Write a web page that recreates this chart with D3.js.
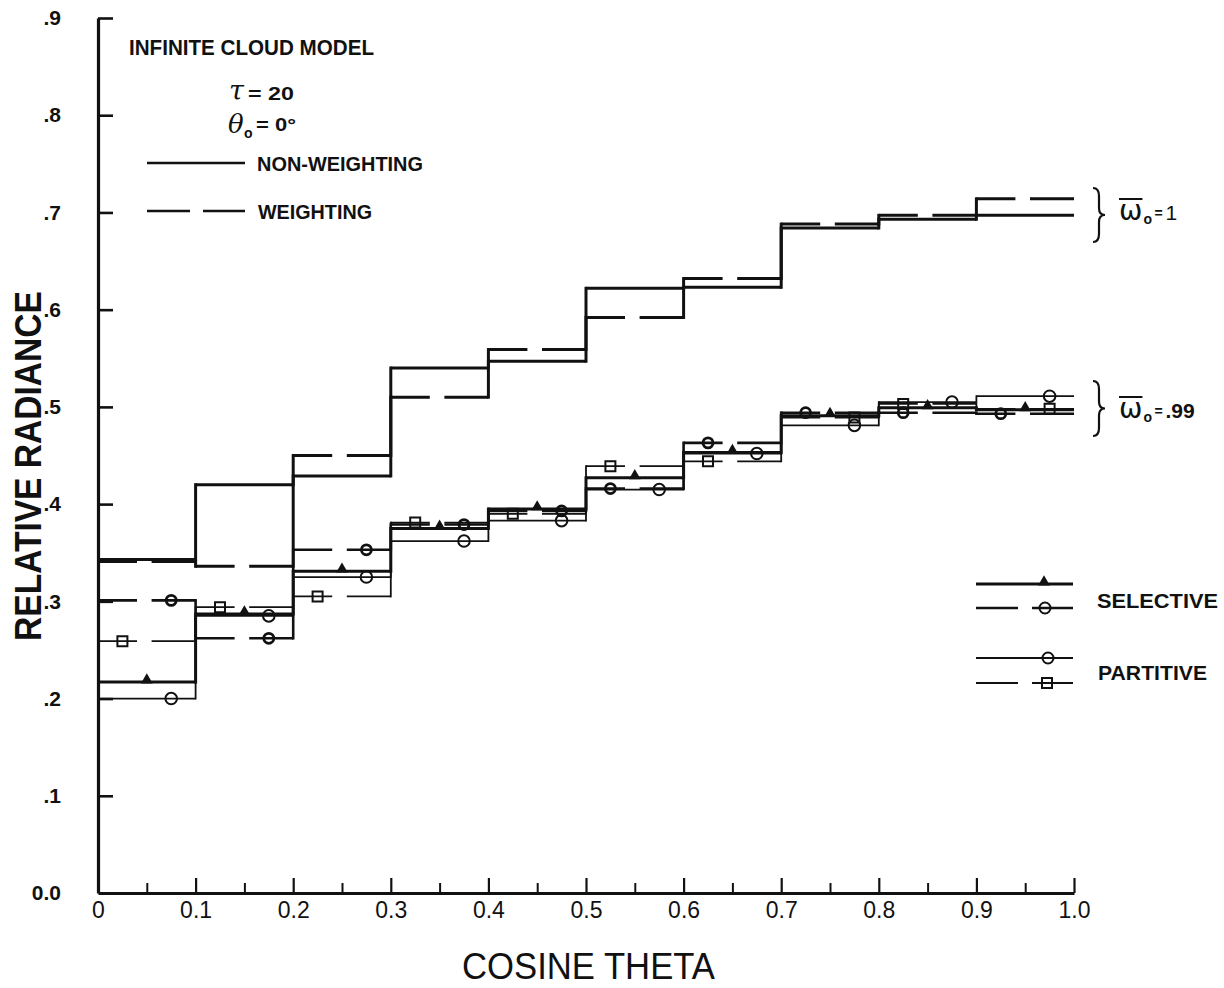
<!DOCTYPE html>
<html>
<head>
<meta charset="utf-8">
<script src="https://cdn.jsdelivr.net/npm/d3@7"></script>
<style>
  html, body { margin: 0; padding: 0; background: #fff; }
  svg { display: block; }
</style>
</head>
<body>
<svg id="chart" width="1224" height="988"></svg>
<script>
// ---- bins of cosine theta ----
const binEdges = [0, 0.1, 0.2, 0.3, 0.4, 0.5, 0.6, 0.7, 0.8, 0.9, 1.0];
const xMajorTicks = [0, 0.1, 0.2, 0.3, 0.4, 0.5, 0.6, 0.7, 0.8, 0.9, 1.0];
const xMajorLabels = ["0", "0.1", "0.2", "0.3", "0.4", "0.5", "0.6", "0.7", "0.8", "0.9", "1.0"];
const xMinorTicks = [0.05, 0.15, 0.25, 0.35, 0.45, 0.55, 0.65, 0.75, 0.85, 0.95];
const yTicks = [0, 0.1, 0.2, 0.3, 0.4, 0.5, 0.6, 0.7, 0.8, 0.9];
const yTickLabels = ["0.0", ".1", ".2", ".3", ".4", ".5", ".6", ".7", ".8", ".9"];

// ---- single scattering albedo = 1 ----
const nonWeighting = [0.343, 0.420, 0.429, 0.540, 0.547, 0.622, 0.623, 0.684, 0.693, 0.697];
const weighting    = [0.341, 0.336, 0.450, 0.510, 0.559, 0.592, 0.632, 0.688, 0.697, 0.714];

// ---- single scattering albedo = .99 ----
// selective, non-weighting (filled triangles)
const selectiveSolid      = [0.217, 0.287, 0.331, 0.375, 0.395, 0.427, 0.453, 0.491, 0.499, 0.497];
const selectiveSolidMarkX = [0.05, 0.15, 0.25, 0.35, 0.45, 0.55, 0.65, 0.75, 0.85, 0.95];
// selective, weighting (circles)
const selectiveDashed      = [0.301, 0.262, 0.353, 0.379, 0.393, 0.416, 0.463, 0.494, 0.494, 0.493];
const selectiveDashedMarkX = [0.075, 0.175, 0.275, 0.375, 0.475, 0.525, 0.625, 0.725, 0.825, 0.925];
// partitive, non-weighting (circles)
const partitiveSolid      = [0.200, 0.285, 0.325, 0.362, 0.383, 0.415, 0.452, 0.481, 0.505, 0.511];
const partitiveSolidMarkX = [0.075, 0.175, 0.275, 0.375, 0.475, 0.575, 0.675, 0.775, 0.875, 0.975];
// partitive, weighting (squares)
const partitiveDashed      = [0.259, 0.294, 0.305, 0.381, 0.390, 0.439, 0.444, 0.489, 0.503, 0.498];
const partitiveDashedMarkX = [0.025, 0.125, 0.225, 0.325, 0.425, 0.525, 0.625, 0.775, 0.825, 0.975];

// ---------------------------------------------------------------
const ink = "#111";
const letterFont = "'Liberation Sans Narrow', 'Arial Narrow', 'Liberation Sans', Arial, sans-serif";
const svg = d3.select("#chart");
svg.append("rect").attr("width", 1224).attr("height", 988).attr("fill", "#fff");

const x = d3.scaleLinear().domain([0, 1]).range([98, 1074]);
const y = d3.scaleLinear().domain([0, 0.9]).range([893, 18]);

const binW = x(0.1) - x(0);
const dashPattern = [binW * 0.40, binW * 0.15, binW * 0.45, 0].map(d => d.toFixed(1)).join(" ");

// ---- axes ----
const yAxis = d3.axisLeft(y)
  .tickValues(yTicks)
  .tickFormat((d, i) => yTickLabels[i])
  .tickSizeInner(-15)
  .tickSizeOuter(0)
  .tickPadding(37);
const gy = svg.append("g").attr("transform", `translate(${x(0)},0)`).call(yAxis);
gy.select(".domain").attr("stroke", ink).attr("stroke-width", 3.2);
gy.selectAll(".tick line").attr("stroke", ink).attr("stroke-width", 2.6)
  .filter(d => d === 0).remove();
gy.selectAll(".tick text")
  .attr("fill", ink)
  .attr("font-family", letterFont)
  .attr("font-weight", "bold")
  .attr("font-size", 21);

const xAxis = d3.axisBottom(x)
  .tickValues(xMajorTicks)
  .tickFormat((d, i) => xMajorLabels[i])
  .tickSizeInner(-15)
  .tickSizeOuter(0)
  .tickPadding(9);
const gx = svg.append("g").attr("transform", `translate(0,${y(0)})`).call(xAxis);
gx.select(".domain").attr("stroke", ink).attr("stroke-width", 3.2);
gx.selectAll(".tick line").attr("stroke", ink).attr("stroke-width", 2.2)
  .filter(d => d === 0).remove();
gx.selectAll(".tick text")
  .attr("fill", ink)
  .attr("font-family", letterFont)
  .attr("font-size", 23);

const xMinor = d3.axisBottom(x).tickValues(xMinorTicks).tickFormat("")
  .tickSizeInner(-10).tickSizeOuter(0);
const gxm = svg.append("g").attr("transform", `translate(0,${y(0)})`).call(xMinor);
gxm.select(".domain").remove();
gxm.selectAll(".tick line").attr("stroke", ink).attr("stroke-width", 2);

// ---- step series ----
function drawSteps(values, st) {
  const g = svg.append("g").attr("class", "series");
  const segs = values.map((v, i) => ({ a: binEdges[i], b: binEdges[i + 1], v }));
  g.selectAll("line.h").data(segs).join("line").attr("class", "h")
    .attr("x1", d => x(d.a)).attr("x2", d => x(d.b))
    .attr("y1", d => y(d.v)).attr("y2", d => y(d.v))
    .attr("stroke", ink).attr("stroke-width", st.width)
    .attr("stroke-dasharray", st.dashed ? dashPattern : null);
  const risers = values.slice(1).map((v, i) => ({ at: binEdges[i + 1], from: values[i], to: v }));
  g.selectAll("line.v").data(risers).join("line").attr("class", "v")
    .attr("x1", d => x(d.at)).attr("x2", d => x(d.at))
    .attr("y1", d => y(d.from)).attr("y2", d => y(d.to))
    .attr("stroke", ink).attr("stroke-width", st.width)
    .attr("stroke-linecap", "square");
  return g;
}

function drawMarks(values, markX, kind) {
  const g = svg.append("g").attr("class", "marks");
  const pts = values.map((v, i) => ({ mx: markX[i], v }));
  if (kind === "triangle") {
    g.selectAll("path").data(pts).join("path")
      .attr("d", d3.symbol(d3.symbolTriangle, 60)())
      .attr("transform", d => `translate(${x(d.mx)},${y(d.v) - 2})`)
      .attr("fill", ink);
  } else if (kind === "square") {
    g.selectAll("path").data(pts).join("path")
      .attr("d", d3.symbol(d3.symbolSquare, 100)())
      .attr("transform", d => `translate(${x(d.mx)},${y(d.v)})`)
      .attr("fill", "none").attr("stroke", ink).attr("stroke-width", 2);
  } else {
    g.selectAll("circle").data(pts).join("circle")
      .attr("cx", d => x(d.mx)).attr("cy", d => y(d.v))
      .attr("r", kind === "circleBold" ? 5 : 5.8)
      .attr("fill", "none").attr("stroke", ink)
      .attr("stroke-width", kind === "circleBold" ? 2.8 : 2);
  }
}

drawSteps(nonWeighting, { width: 3, dashed: false });
drawSteps(weighting, { width: 3, dashed: true });

drawSteps(partitiveSolid, { width: 1.8, dashed: false });
drawSteps(partitiveDashed, { width: 1.8, dashed: true });
drawSteps(selectiveDashed, { width: 2.6, dashed: true });
drawSteps(selectiveSolid, { width: 3, dashed: false });

drawMarks(partitiveSolid, partitiveSolidMarkX, "circle");
drawMarks(partitiveDashed, partitiveDashedMarkX, "square");
drawMarks(selectiveDashed, selectiveDashedMarkX, "circleBold");
drawMarks(selectiveSolid, selectiveSolidMarkX, "triangle");

// ---- text helpers ----
function label(txt, px, py, opts = {}) {
  const t = svg.append("text")
    .attr("x", px).attr("y", py)
    .attr("fill", ink)
    .attr("font-family", opts.family || letterFont)
    .attr("font-size", opts.size || 20)
    .attr("font-weight", opts.weight || "bold")
    .attr("font-style", opts.style || "normal")
    .text(txt);
  if (opts.len) t.attr("textLength", opts.len).attr("lengthAdjust", "spacingAndGlyphs");
  if (opts.anchor) t.attr("text-anchor", opts.anchor);
  return t;
}

// ---- axis titles ----
label("COSINE THETA", 462, 979, { size: 36, weight: "normal", len: 253 });
svg.append("text")
  .attr("transform", "translate(41,466) rotate(-90)")
  .attr("text-anchor", "middle")
  .attr("fill", ink)
  .attr("font-family", letterFont)
  .attr("font-size", 36)
  .attr("font-weight", "bold")
  .attr("textLength", 350)
  .attr("lengthAdjust", "spacingAndGlyphs")
  .text("RELATIVE RADIANCE");

// ---- model description block ----
label("INFINITE CLOUD MODEL", 129, 55, { size: 22, len: 245 });
label("\u03C4", 229, 100, { size: 27, weight: "normal", style: "italic", family: "'DejaVu Serif', serif" });
label("= 20", 248, 100, { size: 19, len: 46 });
label("\u03B8", 228, 133, { size: 26, weight: "normal", style: "italic", family: "'DejaVu Serif', serif" });
label("o", 244, 138, { size: 14 });
label("= 0\u00B0", 256, 131, { size: 18, len: 40 });

svg.append("line").attr("x1", 147).attr("x2", 245).attr("y1", 163).attr("y2", 163)
  .attr("stroke", ink).attr("stroke-width", 2.6);
label("NON-WEIGHTING", 257, 171, { size: 20, len: 166 });
svg.append("line").attr("x1", 147).attr("x2", 245).attr("y1", 211).attr("y2", 211)
  .attr("stroke", ink).attr("stroke-width", 2.6).attr("stroke-dasharray", "43 13 42 0");
label("WEIGHTING", 258, 219, { size: 20, len: 114 });

// ---- albedo braces ----
function brace(xL, y0, y1) {
  const p = d3.path();
  const yc = (y0 + y1) / 2, xm = xL + 6, xt = xL + 12;
  p.moveTo(xL, y0);
  p.quadraticCurveTo(xm, y0, xm, y0 + 8);
  p.lineTo(xm, yc - 7);
  p.quadraticCurveTo(xm, yc, xt, yc);
  p.quadraticCurveTo(xm, yc, xm, yc + 7);
  p.lineTo(xm, y1 - 8);
  p.quadraticCurveTo(xm, y1, xL, y1);
  svg.append("path").attr("d", p.toString())
    .attr("fill", "none").attr("stroke", ink).attr("stroke-width", 2.2);
}
function albedoLabel(px, py, value) {
  const w = label("\u03C9", px, py, { size: 28, weight: "normal", family: "'DejaVu Sans', sans-serif" });
  const wl = w.node().getComputedTextLength();
  svg.append("line").attr("x1", px).attr("x2", px + wl).attr("y1", py - 21).attr("y2", py - 21)
    .attr("stroke", ink).attr("stroke-width", 2);
  label("o", px + wl + 1, py + 4, { size: 14 });
  label("=", px + wl + 12, py - 2, { size: 14 });
  label(value, px + wl + 23, py, { size: 21, weight: value === "1" ? "normal" : "bold" });
}
brace(1093, 188, 242);
albedoLabel(1119, 220, "1");
brace(1093, 381, 436);
albedoLabel(1119, 418, ".99");

// ---- scattering-type legend ----
function legendSample(y0, width, dashed, kind, mx) {
  svg.append("line").attr("x1", 976).attr("x2", 1073).attr("y1", y0).attr("y2", y0)
    .attr("stroke", ink).attr("stroke-width", width)
    .attr("stroke-dasharray", dashed ? "42 14 42 0" : null);
  if (kind === "triangle") {
    svg.append("path").attr("d", d3.symbol(d3.symbolTriangle, 60)())
      .attr("transform", `translate(${mx},${y0 - 2})`).attr("fill", ink);
  } else if (kind === "square") {
    svg.append("path").attr("d", d3.symbol(d3.symbolSquare, 100)())
      .attr("transform", `translate(${mx},${y0})`)
      .attr("fill", "none").attr("stroke", ink).attr("stroke-width", 2);
  } else {
    svg.append("circle").attr("cx", mx).attr("cy", y0).attr("r", 5.5)
      .attr("fill", "none").attr("stroke", ink).attr("stroke-width", 2);
  }
}
legendSample(584, 3, false, "triangle", 1044);
legendSample(608, 2.4, true, "circle", 1045);
label("SELECTIVE", 1097, 608, { size: 20, len: 121 });
legendSample(658, 1.8, false, "circle", 1048);
legendSample(683, 1.8, true, "square", 1047);
label("PARTITIVE", 1098, 680, { size: 20, len: 109 });
</script>
</body>
</html>
